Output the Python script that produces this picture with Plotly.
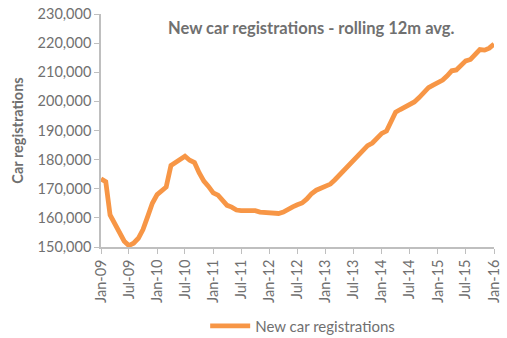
import plotly.graph_objects as go
import pandas as pd

series_name = "New car registrations"
title_text = "New car registrations - rolling 12m avg."
y_title = "Car registrations"

months = pd.date_range("2009-01-01", "2016-01-01", freq="MS")
registrations = [
    173400, 172400, 161000, 158000, 155000, 152000, 150500, 151300, 153000, 156000,
    160500, 165000, 168000, 169600, 170600, 178000, 179200, 180500, 181200, 179800,
    179000, 175500, 172600, 170800, 168600, 167800, 166200, 164300, 163700, 162700,
    162500, 162500, 162500, 162500, 162000, 161900, 161800, 161700, 161500, 162000,
    163000, 163800, 164500, 165100, 166500, 168300, 169500, 170300, 171000, 171600,
    173000, 174700, 176200, 177800, 179600, 180900, 183000, 184800, 185700, 187500,
    189000, 189800, 193000, 196300, 197200, 198200, 199100, 199800, 201300, 203200,
    204700, 205600, 206500, 207300, 208700, 210500, 210800, 212200, 213900, 214400,
    216200, 217800, 217600, 218300, 219700,
]

tick_dates = pd.date_range("2009-01-01", "2016-01-01", freq="6MS")
tick_labels = [d.strftime("%b-%y") for d in tick_dates]
y_ticks = list(range(150000, 230001, 10000))

grey = "#707070"
axis_grey = "#bfbfbf"
font_family = "Lato, Open Sans, sans-serif"

fig = go.Figure()
fig.add_trace(go.Scatter(
    x=months, y=registrations, mode="lines", name=series_name,
    line=dict(color="#F79646", width=4.8),
))

fig.update_layout(
    width=507, height=338,
    margin=dict(l=101, r=9, t=5, b=91),
    paper_bgcolor="white", plot_bgcolor="white",
    font=dict(family=font_family, color=grey, size=14),
    showlegend=True,
    legend=dict(
        orientation="h", xref="container", yref="container",
        x=0.597, y=0.035, xanchor="center", yanchor="middle",
        font=dict(size=15, color=grey), itemwidth=40,
    ),
    annotations=[dict(
        text="<b>" + title_text + "</b>", xref="paper", yref="paper",
        x=0.535, y=0.94, xanchor="center", yanchor="middle",
        showarrow=False, font=dict(size=16.5, color=grey),
    )],
)

fig.update_xaxes(
    range=[months[0], months[-1]],
    tickvals=tick_dates, ticktext=tick_labels, tickangle=-90,
    showgrid=False, showline=True, linecolor=axis_grey, linewidth=1.5,
    ticks="outside", ticklen=5, tickcolor=axis_grey,
    tickfont=dict(size=14.5, color=grey), zeroline=False,
)
fig.update_yaxes(
    range=[150000, 230000], tickvals=y_ticks, tickformat=",",
    showgrid=False, showline=True, linecolor=axis_grey, linewidth=1.5,
    ticks="outside", ticklen=5, tickcolor=axis_grey,
    tickfont=dict(size=14.5, color=grey), zeroline=False,
    ticklabeloverflow="allow",
    title=dict(text="<b>" + y_title + "</b>", font=dict(size=14.5, color=grey), standoff=11),
)

fig.write_html("out.html")
